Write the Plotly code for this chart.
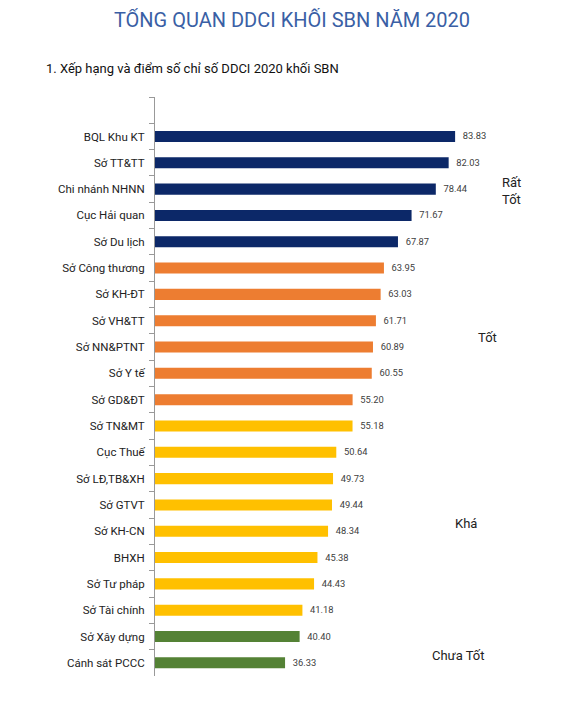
import plotly.graph_objects as go

# Data
units = [
    "BQL Khu KT", "Sở TT&TT", "Chi nhánh NHNN", "Cục Hải quan", "Sở Du lịch",
    "Sở Công thương", "Sở KH-ĐT", "Sở VH&TT", "Sở NN&PTNT", "Sở Y tế", "Sở GD&ĐT",
    "Sở TN&MT", "Cục Thuế", "Sở LĐ,TB&XH", "Sở GTVT", "Sở KH-CN", "BHXH",
    "Sở Tư pháp", "Sở Tài chính", "Sở Xây dựng", "Cánh sát PCCC",
]
scores = [
    83.83, 82.03, 78.44, 71.67, 67.87,
    63.95, 63.03, 61.71, 60.89, 60.55, 55.20,
    55.18, 50.64, 49.73, 49.44, 48.34, 45.38,
    44.43, 41.18, 40.40, 36.33,
]
groups = (["Rất Tốt"] * 5 + ["Tốt"] * 6 + ["Khá"] * 8 + ["Chưa Tốt"] * 2)

group_colors = {
    "Rất Tốt": "#0c2868",
    "Tốt": "#ed7d31",
    "Khá": "#ffc000",
    "Chưa Tốt": "#548235",
}

fig = go.Figure(go.Bar(
    x=scores,
    y=units,
    orientation="h",
    marker=dict(color=[group_colors[g] for g in groups], line=dict(width=0)),
    text=scores,
    texttemplate="  %{x:.2f}",
    textposition="outside",
    textfont=dict(size=11, color="#404040"),
    cliponaxis=False,
    hoverinfo="x+y",
))

# group labels on the right
group_labels = [
    ("Rất<br>Tốt", 0.846, 0.837),
    ("Tốt", 0.789, 0.584),
    ("Khá", 0.739, 0.264),
    ("Chưa Tốt", 0.722, 0.035),
]
annotations = [
    dict(text=t, x=x, y=y, xref="paper", yref="paper", showarrow=False,
         xanchor="center", yanchor="middle",
         font=dict(size=13, color="#222222"), align="left")
    for t, x, y in group_labels
]
annotations.append(dict(
    text="1. Xếp hạng và điểm số chỉ số DDCI 2020 khối SBN",
    x=-0.264, y=1.050, xref="paper", yref="paper", xanchor="left",
    yanchor="middle", showarrow=False, font=dict(size=13, color="#111111"),
))

# page body has an 8px margin, so the figure is 8px smaller each way
fig.update_layout(
    width=568, height=694,
    margin=dict(l=147, r=0, t=89, b=26, autoexpand=False),
    paper_bgcolor="white", plot_bgcolor="white",
    font=dict(family="Roboto", color="#222222"),
    title=dict(text="TỔNG QUAN DDCI KHỐI SBN NĂM 2020", x=0.5, xanchor="center",
               y=1 - 12 / 694, yanchor="middle",
               font=dict(size=20, color="#3a5fa5")),
    bargap=0.58,
    showlegend=False,
    annotations=annotations,
    xaxis=dict(range=[0, 117.6], visible=False, fixedrange=True, automargin=False),
    yaxis=dict(
        type="category", automargin=False,
        categoryorder="array", categoryarray=[" "] + units,
        range=[21.5, -0.5],
        tickson="boundaries", ticks="outside", ticklen=5, tickcolor="#999999",
        showline=True, linecolor="#999999", linewidth=1,
        showgrid=False, zeroline=False,
        tickfont=dict(size=11.5, color="#222222"),
        ticklabelstandoff=7,
    ),
)

fig.write_html("out.html")
